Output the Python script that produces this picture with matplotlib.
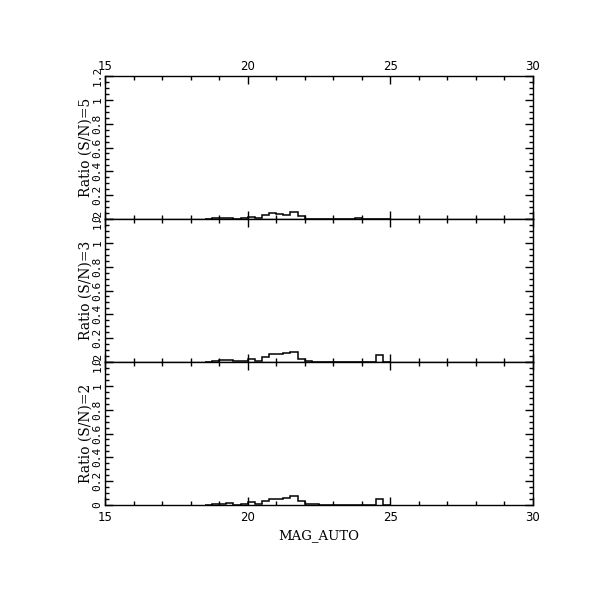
#!/usr/bin/env python3
"""Ratio histograms vs MAG_AUTO for three S/N cuts."""

import numpy as np
import matplotlib
matplotlib.use('Agg')
import matplotlib.pyplot as plt
from matplotlib.ticker import MultipleLocator, FuncFormatter

# bin grid (0.25 mag) over the populated range
bin_edges = np.arange(18.5, 25.01, 0.25)

# ratio per bin
ratio_sn5 = [0.0, 0.010, 0.005, 0.010, 0.0, 0.005, 0.017, 0.005, 0.034, 0.050,
             0.045, 0.036, 0.056, 0.022, 0.003, 0.0, 0.0, 0.0, 0.0, 0.0,
             0.0, 0.005, 0.0, 0.0, 0.0, 0.0]
ratio_sn3 = [0.0, 0.008, 0.020, 0.020, 0.005, 0.008, 0.028, 0.006, 0.042, 0.067,
             0.067, 0.073, 0.084, 0.022, 0.011, 0.003, 0.003, 0.003, 0.0, 0.003,
             0.003, 0.0, 0.004, 0.0, 0.062, 0.0]
ratio_sn2 = [0.0, 0.008, 0.005, 0.014, 0.003, 0.008, 0.028, 0.005, 0.036, 0.050,
             0.050, 0.056, 0.078, 0.034, 0.008, 0.005, 0.0, 0.0, 0.0, 0.0,
             0.0, 0.0, 0.0, 0.0, 0.048, 0.0]

panel_labels = ['Ratio (S/N)=5', 'Ratio (S/N)=3', 'Ratio (S/N)=2']
panel_values = [ratio_sn5, ratio_sn3, ratio_sn2]


def ytick_fmt(v, pos):
    if abs(v) < 1e-9:
        return '0'
    if abs(v - 1) < 1e-9:
        return '1'
    return f'{v:.1f}'


fig = plt.figure(figsize=(6.11, 6.11), dpi=100)

left, width = 105 / 611, 428 / 611
height = 143 / 611
bottoms = [1 - 219 / 611, 1 - 362 / 611, 1 - 505 / 611]

for k, (lab, vals, b) in enumerate(zip(panel_labels, panel_values, bottoms)):
    ax = fig.add_axes([left, b, width, height])
    ax.stairs(vals, bin_edges, color='black', linewidth=1.1, baseline=0)
    ax.set_xlim(15, 30)
    ax.set_ylim(0, 1.2)

    ax.xaxis.set_major_locator(MultipleLocator(5))
    ax.xaxis.set_minor_locator(MultipleLocator(1))
    ax.yaxis.set_major_locator(MultipleLocator(0.2))
    ax.yaxis.set_minor_locator(MultipleLocator(0.05))
    ax.yaxis.set_major_formatter(FuncFormatter(ytick_fmt))

    ax.tick_params(which='both', direction='in', top=True, right=True,
                   width=1.0, colors='black')
    ax.tick_params(which='major', length=5.8)
    ax.tick_params(which='minor', length=3.2)
    ax.tick_params(axis='y', labelsize=8, labelrotation=90, pad=2)
    for t in ax.get_yticklabels():
        t.set_verticalalignment('center')
        t.set_family('DejaVu Sans Mono')

    ax.tick_params(axis='x', labelsize=8.5, pad=4,
                   labeltop=(k == 0), labelbottom=(k == 2))
    if k == 0:
        ax.tick_params(axis='x', pad=2)
    for sp in ax.spines.values():
        sp.set_linewidth(1.0)

    ax.set_ylabel(lab, family='DejaVu Serif', fontsize=10, labelpad=0)
    if k == 2:
        ax.set_xlabel('MAG_AUTO', family='DejaVu Serif', fontsize=9.5,
                      labelpad=4)

fig.savefig('out.png', dpi=100, facecolor='white')
